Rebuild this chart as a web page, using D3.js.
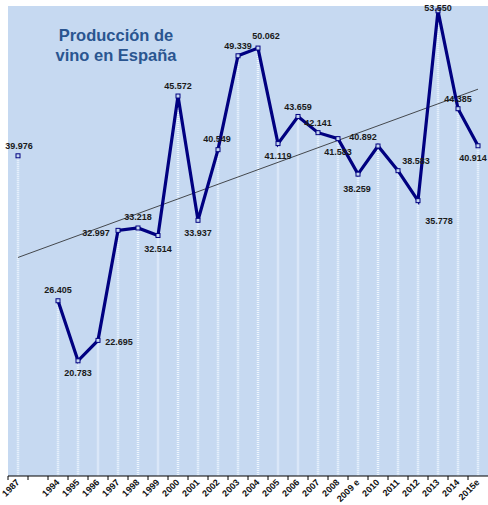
<!DOCTYPE html>
<html>
<head>
<meta charset="utf-8">
<script src="https://cdn.jsdelivr.net/npm/d3@7"></script>
<style>
  body { margin: 0; background: #fff; }
  svg { display: block; font-family: "Liberation Sans", Arial, sans-serif; }
</style>
</head>
<body>
<div id="chart"></div>
<script>
/// PRODUCCION DE VINO EN ESPAÑA ///
const years = ["1987", "", "1994", "1995", "1996", "1997", "1998", "1999", "2000",
  "2001", "2002", "2003", "2004", "2005", "2006", "2007", "2008", "2009 e",
  "2010", "2011", "2012", "2013", "2014", "2015e"];

const production = [39.976, null, 26.405, 20.783, 22.695, 32.997, 33.218, 32.514,
  45.572, 33.937, 40.549, 49.339, 50.062, 41.119, 43.659, 42.141, 41.583,
  38.259, 40.892, 38.583, 35.778, 53.550, 44.385, 40.914];

const yDomain = [10, 54];

// where each value label sits relative to its point (dx, dy of the text centre)
const labelOffsets = [[1, -10], null, [0, -11], [0, 12], [21, 1], [-22, 2], [0, -11],
  [0, 13], [0, -10], [0, 13], [-1, -11], [0, -10], [8, -12], [0, 12], [0, -10],
  [0, -10], [0, 13], [-1, 15], [-15, -9], [18, -10], [21, 20], [0, -3], [0, -10],
  [-5, 12]];

const width = 488, height = 505;
const margin = { top: 6, right: 0, bottom: 29, left: 8 };
const plotW = width - margin.left - margin.right;
const plotH = height - margin.top - margin.bottom;

const data = years.map((y, i) => ({ year: y, value: production[i], i: i }));

const svg = d3.select("#chart")
  .append("svg")
  .attr("width", width)
  .attr("height", height);

const g = svg.append("g")
  .attr("transform", `translate(${margin.left},${margin.top})`);

const x = d3.scaleBand()
  .domain(years)
  .range([0, plotW]);

const y = d3.scaleLinear()
  .domain(yDomain)
  .range([plotH, 0]);

const cx = (d) => x(d.year) + x.bandwidth() / 2;

// plot background
g.append("rect")
  .attr("width", plotW)
  .attr("height", plotH)
  .attr("fill", "#c6d9f1");

const pts = data.filter((d) => d.value != null);

// drop lines
g.append("g")
  .selectAll("line")
  .data(pts)
  .join("line")
  .attr("x1", cx)
  .attr("x2", cx)
  .attr("y1", (d) => y(d.value) + 2)
  .attr("y2", plotH)
  .attr("stroke", "#eef6ff")
  .attr("stroke-width", 2.5)
  .attr("stroke-dasharray", "1,1");

// linear trend (least squares on category index)
const n = pts.length;
const mx = d3.mean(pts, (d) => d.i + 1);
const my = d3.mean(pts, (d) => d.value);
const slope = d3.sum(pts, (d) => (d.i + 1 - mx) * (d.value - my)) /
  d3.sum(pts, (d) => (d.i + 1 - mx) ** 2);
const icpt = my - slope * mx;
const first = pts[0], last = pts[n - 1];

g.append("line")
  .attr("x1", cx(first))
  .attr("x2", cx(last))
  .attr("y1", y(icpt + slope * (first.i + 1)))
  .attr("y2", y(icpt + slope * (last.i + 1)))
  .attr("stroke", "#222")
  .attr("stroke-width", 0.8);

// main line
const line = d3.line()
  .defined((d) => d.value != null)
  .x(cx)
  .y((d) => y(d.value));

g.append("path")
  .datum(data)
  .attr("d", line)
  .attr("fill", "none")
  .attr("stroke", "#000080")
  .attr("stroke-width", 3.2)
  .attr("stroke-linejoin", "miter");

// markers
g.append("g")
  .selectAll("rect")
  .data(pts)
  .join("rect")
  .attr("x", (d) => cx(d) - 2)
  .attr("y", (d) => y(d.value) - 2)
  .attr("width", 4)
  .attr("height", 4)
  .attr("fill", "#c6d9f1")
  .attr("stroke", "#000080")
  .attr("stroke-width", 1);

// value labels
g.append("g")
  .selectAll("text")
  .data(pts)
  .join("text")
  .attr("x", (d) => cx(d) + labelOffsets[d.i][0])
  .attr("y", (d) => y(d.value) + labelOffsets[d.i][1])
  .attr("dy", "0.35em")
  .attr("text-anchor", "middle")
  .style("font-size", "9px")
  .style("font-weight", "bold")
  .attr("fill", "#1a1a1a")
  .text((d) => d3.format(".3f")(d.value));

// x axis
const xAxis = g.append("g")
  .attr("transform", `translate(0,${plotH})`);

xAxis.append("line")
  .attr("x1", 0)
  .attr("x2", plotW)
  .attr("stroke", "#000")
  .attr("stroke-width", 1.2);

xAxis.selectAll("line.tick")
  .data(years)
  .join("line")
  .attr("class", "tick")
  .attr("x1", (d) => x(d))
  .attr("x2", (d) => x(d))
  .attr("y1", 0)
  .attr("y2", 4)
  .attr("stroke", "#000");

xAxis.selectAll("text")
  .data(years)
  .join("text")
  .attr("transform", (d) => `translate(${x(d) + x.bandwidth() / 2 + 2},7) rotate(-45)`)
  .attr("text-anchor", "end")
  .style("font-size", "9px")
  .style("font-weight", "bold")
  .attr("fill", "#111")
  .text((d) => d);

// title
const title = svg.append("text")
  .attr("x", 116)
  .attr("text-anchor", "middle")
  .style("font-size", "16.5px")
  .style("font-weight", "bold")
  .attr("fill", "#2a5590");
title.append("tspan").attr("x", 116).attr("y", 41).text("Producción de");
title.append("tspan").attr("x", 116).attr("y", 61).text("vino en España");
</script>
</body>
</html>
